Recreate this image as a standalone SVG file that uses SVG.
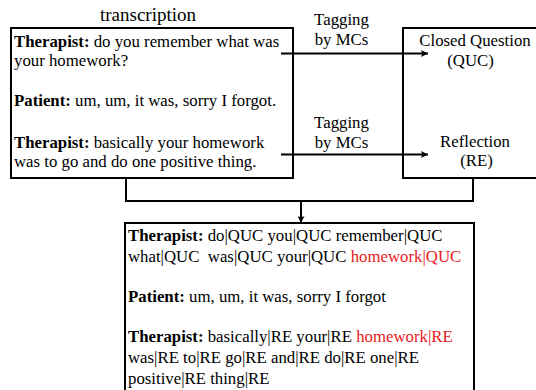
<svg xmlns="http://www.w3.org/2000/svg" width="536" height="390" viewBox="0 0 536 390" font-family="Liberation Serif, Tinos, Times New Roman, Times, serif">
<defs>
<marker id="ah" viewBox="0 0 10 10" refX="10" refY="5" markerWidth="9" markerHeight="7" markerUnits="userSpaceOnUse" orient="auto">
<path d="M0,0 L10,5 L0,10 L2,5 z" fill="#000"/>
</marker>
</defs>
<style>
text{font-family:'Liberation Serif',Tinos,'Times New Roman',Times,serif;font-size:16.8px;fill:#000;white-space:pre}
.b{font-weight:bold}
.r{fill:#e8201c}
.box{fill:#fff;stroke:#000;stroke-width:2}
.ln{fill:none;stroke:#000;stroke-width:2}
.mid{text-anchor:middle}
</style>
<rect width="536" height="390" fill="#fff"/>
<g id="transcription">
<rect class="box" x="11" y="28" width="282" height="150"/>
<text class="mid" x="148" y="20.5" style="font-size:19px">transcription</text>
<text x="14" y="47"><tspan class="b">Therapist:</tspan> do you remember what was</text>
<text x="14" y="66">your homework?</text>
<text x="14" y="105.5"><tspan class="b">Patient:</tspan> um, um, it was, sorry I forgot.</text>
<text x="14" y="147.5"><tspan class="b">Therapist:</tspan> basically your homework</text>
<text x="14" y="166.5">was to go and do one positive thing.</text>
</g>
<g id="labels">
<rect class="box" x="403" y="28" width="140" height="150"/>
<text class="mid" x="475" y="45.5">Closed Question</text>
<text class="mid" x="470.5" y="66">(QUC)</text>
<text class="mid" x="475" y="146.5">Reflection</text>
<text class="mid" x="476.5" y="166">(RE)</text>
</g>
<g id="tagged">
<rect class="box" x="125" y="223" width="349" height="180"/>
<text x="128" y="240.5"><tspan class="b">Therapist:</tspan> do|QUC you|QUC remember|QUC</text>
<text x="128" y="262"><tspan>what|QUC  was|QUC your|QUC </tspan><tspan class="r">homework|QUC</tspan></text>
<text x="128" y="302"><tspan class="b">Patient:</tspan> um, um, it was, sorry I forgot</text>
<text x="128" y="342"><tspan class="b">Therapist:</tspan> basically|RE your|RE <tspan class="r">homework|RE</tspan></text>
<text x="128" y="363">was|RE to|RE go|RE and|RE do|RE one|RE</text>
<text x="128" y="383.5">positive|RE thing|RE</text>
</g>
<g id="connectors">
<line class="ln" x1="281" y1="53.5" x2="428" y2="53.5" marker-end="url(#ah)"/>
<text class="mid" x="341.5" y="25">Tagging</text>
<text class="mid" x="341.5" y="44.5">by MCs</text>
<line class="ln" x1="281" y1="154.5" x2="428" y2="154.5" marker-end="url(#ah)"/>
<text class="mid" x="341.5" y="128">Tagging</text>
<text class="mid" x="341.5" y="147.5">by MCs</text>
<polyline class="ln" points="126,178 126,201 473,201 473,178"/>
<line class="ln" x1="301" y1="201" x2="301" y2="223" marker-end="url(#ah)"/>
</g>
</svg>
